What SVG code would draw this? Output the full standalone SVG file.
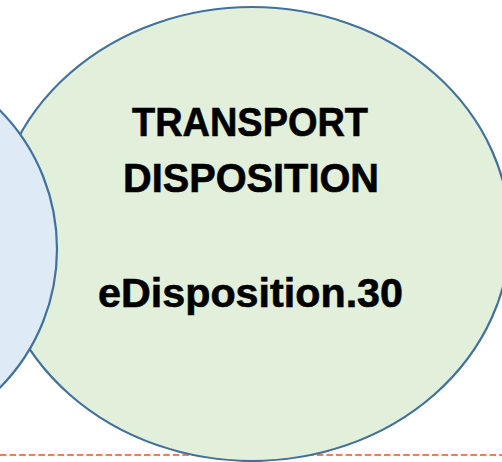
<svg xmlns="http://www.w3.org/2000/svg" width="502" height="462" viewBox="0 0 502 462">
  <style>
    .shape { stroke: #41719C; stroke-width: 2.2; }
    .label { font-family: "Liberation Sans", Arial, sans-serif; font-weight: bold; font-size: 40px; fill: #000; stroke: #000; stroke-width: 0.6; text-anchor: middle; }
  </style>
  <rect width="502" height="462" fill="#FFFFFF"/>
  <g id="connectors">
    <line x1="0" y1="455" x2="502" y2="455" stroke="#F77B4E" stroke-width="2.2" stroke-dasharray="6.5 3.1"/>
  </g>
  <g id="transport-disposition">
    <ellipse class="shape" cx="252" cy="234" rx="258" ry="227" fill="#E2EFDA"/>
    <text class="label" x="250" y="136" textLength="236" lengthAdjust="spacingAndGlyphs">TRANSPORT</text>
    <text class="label" x="251" y="192" textLength="256" lengthAdjust="spacingAndGlyphs">DISPOSITION</text>
    <text class="label" x="250.5" y="307" textLength="305" lengthAdjust="spacingAndGlyphs">eDisposition.30</text>
  </g>
  <g id="left-node">
    <circle class="shape" cx="-140" cy="249" r="197" fill="#DEEBF7"/>
  </g>
</svg>
